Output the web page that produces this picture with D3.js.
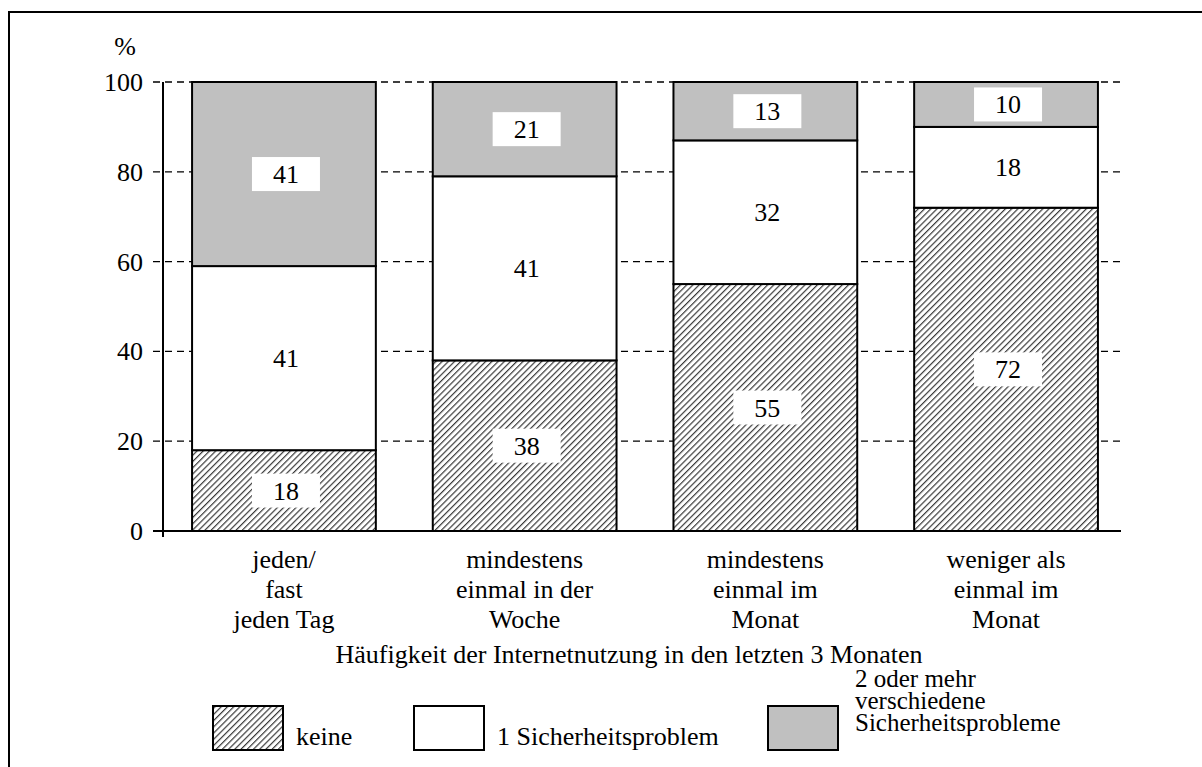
<!DOCTYPE html>
<html>
<head>
<meta charset="utf-8">
<script src="https://cdn.jsdelivr.net/npm/d3@7"></script>
<style>
  body { margin: 0; background: #fff; }
  svg text { font-family: "Liberation Serif", "Times New Roman", serif; fill: #000; }
</style>
</head>
<body>
<svg width="1202" height="767"></svg>
<script>
// data
var categories = [
    ["jeden/", "fast", "jeden Tag"],
    ["mindestens", "einmal in der", "Woche"],
    ["mindestens", "einmal im", "Monat"],
    ["weniger als", "einmal im", "Monat"]
];
var keine = [18, 38, 55, 72];
var einProblem = [41, 41, 32, 18];
var mehrereProbleme = [41, 21, 13, 10];
var yTicks = [0, 20, 40, 60, 80, 100];
var seriesKeys = ["keine", "ein", "mehrere"];
var legendLabels = [["keine"], ["1 Sicherheitsproblem"], ["2 oder mehr", "verschiedene", "Sicherheitsprobleme"]];
var axisTitle = "Häufigkeit der Internetnutzung in den letzten 3 Monaten";

function main(){
    var svg = d3.select("svg");
    var fs = 26;

    // table for the stack
    var table = categories.map(function(c, i){
        return {cat: i, keine: keine[i], ein: einProblem[i], mehrere: mehrereProbleme[i]};
    });
    var stacked = d3.stack().keys(seriesKeys)(table);

    // scales
    var xScale = d3.scaleBand().domain(d3.range(categories.length))
        .range([168, 1122]).paddingInner(0.2365).paddingOuter(0.1);
    var yScale = d3.scaleLinear().domain([0, 100]).range([531, 82]);

    // hatch pattern
    var defs = svg.append("defs");
    var pat = defs.append("pattern")
        .attr("id", "hatch")
        .attr("patternUnits", "userSpaceOnUse")
        .attr("width", 4.4).attr("height", 4.4)
        .attr("patternTransform", "rotate(45)");
    pat.append("rect").attr("width", 4.4).attr("height", 4.4).attr("fill", "#fff");
    pat.append("line").attr("x1", 0).attr("y1", 0).attr("x2", 0).attr("y2", 4.4)
        .attr("stroke", "#3a3a3a").attr("stroke-width", 2.4);

    var fills = {keine: "url(#hatch)", ein: "#fff", mehrere: "#c0c0c0"};

    // outer frame
    svg.append("rect")
        .attr("x", 9).attr("y", 12).attr("width", 1400).attr("height", 900)
        .attr("fill", "none").attr("stroke", "#000").attr("stroke-width", 2);

    // dashed gridlines
    svg.append("g").selectAll("line")
        .data(yTicks.filter(function(d){ return d > 0; }))
        .enter().append("line")
        .attr("x1", 153).attr("x2", 1121)
        .attr("y1", function(d){ return yScale(d); })
        .attr("y2", function(d){ return yScale(d); })
        .attr("stroke", "#000").attr("stroke-width", 1.3)
        .attr("stroke-dasharray", "7,5");

    // y axis
    var yAxis = svg.append("g")
        .attr("transform", "translate(163,0)")
        .call(d3.axisLeft(yScale).tickValues(yTicks).tickSizeInner(10).tickSizeOuter(0).tickPadding(10));
    yAxis.select(".domain").remove();
    yAxis.selectAll(".tick line").remove();
    yAxis.selectAll("text").attr("font-size", fs).attr("dy", "0.33em")
        .style("font-family", "'Liberation Serif', 'Times New Roman', serif");

    // bars
    var layers = svg.append("g").selectAll("g")
        .data(stacked)
        .enter().append("g")
        .attr("fill", function(d){ return fills[d.key]; });
    layers.selectAll("rect")
        .data(function(d){ return d; })
        .enter().append("rect")
        .attr("x", function(d){ return xScale(d.data.cat); })
        .attr("y", function(d){ return yScale(d[1]); })
        .attr("width", xScale.bandwidth())
        .attr("height", function(d){ return yScale(d[0]) - yScale(d[1]); })
        .attr("stroke", "#000").attr("stroke-width", 2);

    // value labels with white boxes
    var labels = svg.append("g");
    stacked.forEach(function(s){
        s.forEach(function(d){
            var cx = xScale(d.data.cat) + xScale.bandwidth() / 2 + 2;
            var cy = yScale((d[0] + d[1]) / 2);
            labels.append("rect")
                .attr("x", cx - 34).attr("y", cy - 17)
                .attr("width", 68).attr("height", 34)
                .attr("fill", "#fff");
            labels.append("text")
                .attr("x", cx).attr("y", cy + 9)
                .attr("text-anchor", "middle")
                .attr("font-size", fs)
                .text(d[1] - d[0]);
        });
    });

    // axes lines
    svg.append("line").attr("x1", 153).attr("x2", 1121)
        .attr("y1", yScale(0)).attr("y2", yScale(0))
        .attr("stroke", "#000").attr("stroke-width", 2);
    svg.append("line").attr("x1", 163).attr("x2", 163)
        .attr("y1", yScale(100)).attr("y2", 537)
        .attr("stroke", "#000").attr("stroke-width", 2);

    // % unit
    svg.append("text").attr("x", 125).attr("y", 55)
        .attr("text-anchor", "middle").attr("font-size", fs).text("%");

    // category labels
    var catG = svg.append("g").selectAll("text")
        .data(categories)
        .enter().append("text")
        .attr("text-anchor", "middle")
        .attr("font-size", fs)
        .attr("x", function(d, i){ return xScale(i) + xScale.bandwidth() / 2; });
    catG.selectAll("tspan")
        .data(function(d){ return d; })
        .enter().append("tspan")
        .attr("x", function(){ return d3.select(this.parentNode).attr("x"); })
        .attr("y", function(d, j){ return 568 + j * 30; })
        .text(function(d){ return d; });

    // axis title
    svg.append("text").attr("x", 629).attr("y", 663)
        .attr("text-anchor", "middle").attr("font-size", fs).text(axisTitle);

    // legend
    var legendX = [213, 414, 768];
    seriesKeys.forEach(function(k, i){
        svg.append("rect")
            .attr("x", legendX[i]).attr("y", 706)
            .attr("width", 70).attr("height", 44)
            .attr("fill", fills[k]).attr("stroke", "#000").attr("stroke-width", 2);
        var lines = legendLabels[i];
        var t = svg.append("text").attr("font-size", lines.length === 1 ? fs : 25);
        lines.forEach(function(line, j){
            t.append("tspan")
                .attr("x", legendX[i] + (lines.length === 1 ? 83 : 87))
                .attr("y", lines.length === 1 ? 745 : 687 + j * 22)
                .text(line);
        });
    });
}
main();
</script>
</body>
</html>
